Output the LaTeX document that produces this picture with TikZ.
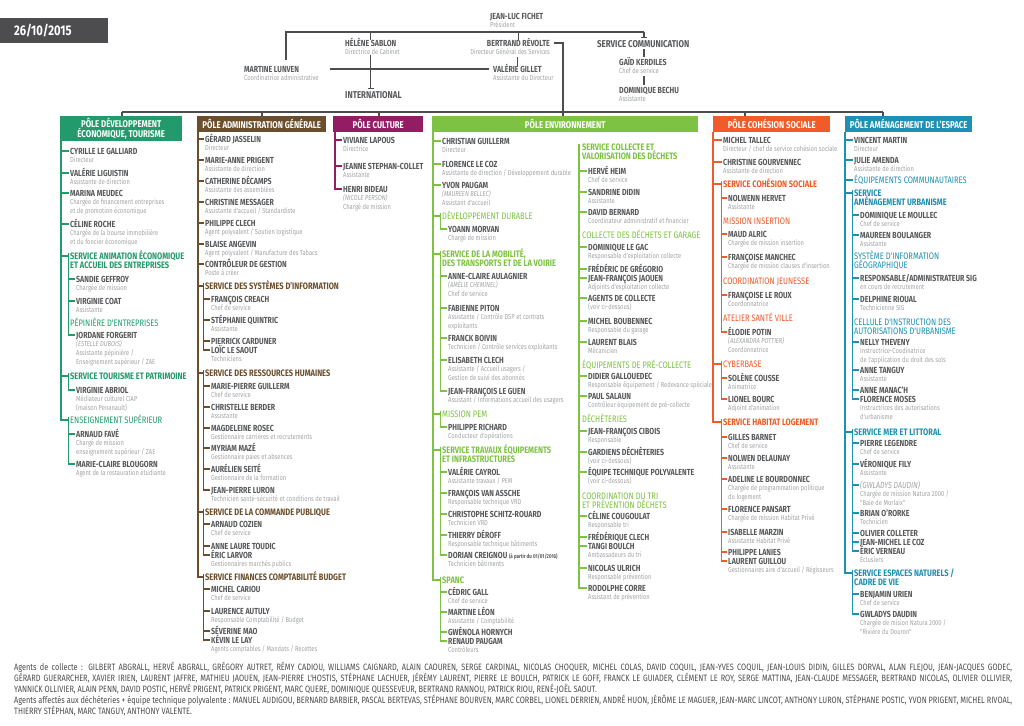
\documentclass[tikz,border=0pt]{standalone}
\usepackage{fontspec}
\setmainfont{Fira Sans}[FakeStretch=0.8]
\newfontfamily\subf{Fira Sans}[FakeStretch=0.8]
\usetikzlibrary{arrows.meta}
\definecolor{nmc}{HTML}{58595B}
\definecolor{sbc}{HTML}{A2A4A6}
\definecolor{dk}{HTML}{4D4D4F}
\definecolor{c1}{HTML}{229A6C}
\definecolor{c2}{HTML}{6B4F2C}
\definecolor{c3}{HTML}{931C63}
\definecolor{c4}{HTML}{7DC242}
\definecolor{c6}{HTML}{F15A29}
\definecolor{c7}{HTML}{1E90B4}
\colorlet{cc}{c1}
\tikzset{
 nm/.style={font=\fontsize{8.8}{9}\selectfont\bfseries, text=nmc, inner xsep=1.5pt, inner ysep=0pt, text height=6.2pt, text depth=0pt, anchor=west},
 sb/.style={font=\subf\fontsize{7.2}{8.6}\selectfont, text=sbc, inner xsep=1.5pt, inner ysep=0pt, align=left, anchor=north west},
 sbr/.style={sb, align=right, anchor=north east},
 secb/.style={nm, font=\fontsize{9.35}{9.5}\selectfont\bfseries, text=cc},
 secr/.style={nm, font=\subf\fontsize{9.4}{9.5}\selectfont, text=cc},
 lk/.style={draw=cc, line width=1.1pt},
 hk/.style={draw=dk, line width=1.2pt},
 ph/.style={fill=cc, text=white, font=\fontsize{9.8}{10.4}\selectfont\bfseries, inner sep=0pt, minimum height=16pt, anchor=north west, align=center},
 big/.style={nm, font=\fontsize{9.9}{10}\selectfont\bfseries},
 ft/.style={font=\subf\fontsize{9.2}{10}\selectfont, text=dk, inner xsep=1.5pt, inner ysep=0pt, anchor=west},
}
\newcommand\prs[6]{%
 \node[nm] (#1) at (#3,#4) {#5};
 \if\relax\detokenize{#6}\relax\else\node[sb] (#1s) at (#1.south west) {\rule{0pt}{8.3pt}#6};\fi
 \draw[lk] (#1.west -| #2) -- (#1.west);}
\newcommand\prq[5]{%
 \node[nm] (#1) at (#2,#3) {#4};
 \node[sb] (#1s) at (#1.south west) {\rule{0pt}{8.3pt}#5};}
\newcommand\secn[6]{%
 \node[#5] (#1) at (#3,#4) {#6};
 \draw[lk] (#1.west -| #2) -- (#1.west);}
\newcommand\secm[5]{\node[#4] (#1) at (#2,#3) {#5};}
\newcommand\secbb[3]{\node[#2] (#1b) at ([yshift=-9.6pt]#1.west) {#3};}
\newcommand\subl[2]{\draw[lk] (#1.north west) |- (#2.west);}
\begin{document}
\begin{tikzpicture}[x=1pt,y=-1pt]
\useasboundingbox (0,0) rectangle (1024,725);
\fill[white] (0,0) rectangle (1024,725);
% date
\node[fill=dk, text=white, font=\fontsize{14}{15}\selectfont\bfseries, text width=80pt, inner xsep=14pt, inner ysep=0pt, minimum height=25pt, align=left, anchor=north west] (date) at (0,18) {26/10/2015};
% top
\prq{fichet}{488.5}{16}{JEAN-LUC FICHET}{Président}
\prq{sablon}{343.5}{43}{HÉLÈNE SABLON}{Directrice de Cabinet}
\node[nm, anchor=east] (revolte) at (551.5,43) {BERTRAND RÉVOLTE};
\node[sbr] (revoltes) at (revolte.south east) {\rule{0pt}{8.3pt}Directeur Général des Services};
\prq{lunven}{242.5}{69}{MARTINE LUNVEN}{Coordinatrice administrative}
\prq{gillet}{491.5}{69}{VALÉRIE GILLET}{Assistante du Directeur}
\node[big] (intl) at (343.5,95) {INTERNATIONAL};
\node[big] (com) at (595.5,44) {SERVICE COMMUNICATION};
\prq{gaid}{617.5}{62}{GAÏD KERDILES}{Chef de service}
\prq{bechu}{617.5}{90}{DOMINIQUE BECHU}{Assistante}
\coordinate (tl) at (286,32);
\coordinate (tr) at (644,32);
\coordinate (tlb) at (286,60);
\coordinate (tcb) at (644,38);
\coordinate (hm) at (330,69);
\draw[hk] (tlb) -- (tl) -- (tr);
\draw[hk,-{Bar[width=6pt]}] (tr) -- (tcb);
\draw[hk] (sablon.north) -- (sablon.north |- tl);
\draw[hk] (revolte.north) -- (revolte.north |- tl);
\draw[hk,-{Bar[width=6pt]},shorten >=3pt] (sablons.south -| sablon.north) -- (intl.north -| sablon.north);
\draw[hk,shorten >=3pt] (hm) -- (gillet.west);
\draw[hk,shorten <=2pt] (revoltes.south -| gillet.north) -- (gillet.north);
\draw[hk,shorten <=2pt,shorten >=2pt] (com.south -| tr) -- (gaid.north -| tr);
\draw[hk,shorten <=2pt,shorten >=2pt] (gaids.south -| tr) -- (bechu.north -| tr);
\coordinate (mb1) at (122,112);
\coordinate (mb2) at (262,112);
\coordinate (mb3) at (379,112);
\coordinate (mb4) at (563,112);
\coordinate (mb5) at (745,112);
\coordinate (mb6) at (883,112);
\draw[hk] ([xshift=2pt]revolte.east) -| (mb4);
\draw[hk] (mb1) -- (mb6);
% ================= column 1
\colorlet{cc}{c1}
\node[ph, minimum width=122pt, minimum height=25pt] (h1) at (60,116) {PÔLE DÉVELOPPEMENT\\ÉCONOMIQUE, TOURISME};
\draw[hk] (mb1) -- (mb1 |- h1.north);
\coordinate (L1) at (61,141);
\prs{a1}{L1}{68.5}{151}{CYRILLE LE GALLIARD}{Directeur}
\prs{a2}{L1}{68.5}{173}{VALÉRIE LIGUISTIN}{Assistante de direction}
\prs{a3}{L1}{68.5}{193}{MARINA MEUDEC}{Chargée de financement entreprises\\et de promotion économique}
\prs{a4}{L1}{68.5}{224}{CÉLINE ROCHE}{Chargée de la bourse immobilière\\et du foncier économique}
\secn{as1}{L1}{68.5}{256}{secb}{SERVICE ANIMATION ÉCONOMIQUE}
\secbb{as1}{secb}{ET ACCUEIL DES ENTREPRISES}
\prs{a5}{as1.west}{74.5}{279}{SANDIE GEFFROY}{Chargée de mission}
\prs{a6}{as1.west}{74.5}{301}{VIRGINIE COAT}{Assistante}
\secm{as1p}{68.5}{323}{secr}{PÉPINIÈRE D'ENTREPRISES}
\prs{a7}{as1.west}{74.5}{335}{JORDANE FORGERIT}{\textit{(ESTELLE DUBOIS)}\\Assistante pépinière /\\Enseignement supérieur / ZAE}
\subl{as1}{a7}
\secn{as2}{L1}{68.5}{376}{secb}{SERVICE TOURISME ET PATRIMOINE}
\prs{a8}{as2.west}{74.5}{390}{VIRGINIE ABRIOL}{Médiateur culturel CIAP\\(maison Penanault)}
\subl{as2}{a8}
\secn{as3}{L1}{68.5}{420}{secr}{ENSEIGNEMENT SUPÉRIEUR}
\prs{a9}{as3.west}{74.5}{434}{ARNAUD FAVÉ}{Chargé de mission\\enseignement supérieur / ZAE}
\prs{a10}{as3.west}{74.5}{464}{MARIE-CLAIRE BLOUGORN}{Agent de la restauration étudiante}
\subl{as3}{a10}
\draw[lk] (L1) |- (as3.west);
% ================= column 2
\colorlet{cc}{c2}
\node[ph, minimum width=129pt] (h2) at (197,116) {PÔLE ADMINISTRATION GÉNÉRALE};
\draw[hk] (mb2) -- (mb2 |- h2.north);
\coordinate (L2) at (198,132);
\prs{b1}{L2}{203.5}{139}{GÉRARD JASSELIN}{Directeur}
\prs{b2}{L2}{203.5}{160}{MARIE-ANNE PRIGENT}{Assistante de direction}
\prs{b3}{L2}{203.5}{181}{CATHERINE DÉCAMPS}{Assistante des assemblées}
\prs{b4}{L2}{203.5}{202}{CHRISTINE MESSAGER}{Assistante d'accueil / Standardiste}
\prs{b5}{L2}{203.5}{223}{PHILIPPE CLECH}{Agent polyvalent / Soutien logistique}
\prs{b6}{L2}{203.5}{244}{BLAISE ANGEVIN}{Agent polyvalent / Manufacture des Tabacs}
\prs{b7}{L2}{203.5}{264}{CONTRÔLEUR DE GESTION}{Poste à créer}
\secn{bs1}{L2}{203.5}{286}{secb}{SERVICE DES SYSTÈMES D'INFORMATION}
\prs{b8}{bs1.west}{209.5}{299}{FRANÇOIS CREACH}{Chef de service}
\prs{b9}{bs1.west}{209.5}{320}{STÉPHANIE QUINTRIC}{Assistante}
\prs{b10}{bs1.west}{209.5}{341}{PIERRICK CARDUNER}{}
\prs{b11}{bs1.west}{209.5}{350}{LOÏC LE SAOUT}{Techniciens}
\subl{bs1}{b11}
\secn{bs2}{L2}{203.5}{373}{secb}{SERVICE DES RESSOURCES HUMAINES}
\prs{b12}{bs2.west}{209.5}{386}{MARIE-PIERRE GUILLERM}{Chef de service}
\prs{b13}{bs2.west}{209.5}{407}{CHRISTELLE BERDER}{Assistante}
\prs{b14}{bs2.west}{209.5}{428}{MAGDELEINE ROSEC}{Gestionnaire carrières et recrutements}
\prs{b15}{bs2.west}{209.5}{448}{MYRIAM MAZÉ}{Gestionnaire paies et absences}
\prs{b16}{bs2.west}{209.5}{469}{AURÉLIEN SEITÉ}{Gestionnaire de la formation}
\prs{b17}{bs2.west}{209.5}{490}{JEAN-PIERRE LURON}{Technicien santé-sécurité et conditions de travail}
\subl{bs2}{b17}
\secn{bs3}{L2}{203.5}{512}{secb}{SERVICE DE LA COMMANDE PUBLIQUE}
\prs{b18}{bs3.west}{209.5}{524}{ARNAUD COZIEN}{Chef de service}
\prs{b19}{bs3.west}{209.5}{546}{ANNE LAURE TOUDIC}{}
\prs{b20}{bs3.west}{209.5}{555}{ÉRIC LARVOR}{Gestionnaires marchés publics}
\subl{bs3}{b20}
\secn{bs4}{L2}{203.5}{577}{secb}{SERVICE FINANCES COMPTABILITÉ BUDGET}
\prs{b21}{bs4.west}{209.5}{589}{MICHEL CARIOU}{Chef de service}
\prs{b22}{bs4.west}{209.5}{611}{LAURENCE AUTULY}{Responsable Comptabilité / Budget}
\prs{b23}{bs4.west}{209.5}{631}{SÉVERINE MAO}{}
\prs{b24}{bs4.west}{209.5}{640}{KÉVIN LE LAY}{Agents comptables / Mandats / Recettes}
\subl{bs4}{b24}
\draw[lk] (L2) |- (bs4.west);
% ================= column 3
\colorlet{cc}{c3}
\node[ph, minimum width=90pt] (h3) at (333,116) {PÔLE CULTURE};
\draw[hk] (mb3) -- (mb3 |- h3.north);
\coordinate (L3) at (335,132);
\prs{c1}{L3}{341.5}{140}{VIVIANE LAPOUS}{Directrice}
\prs{c2}{L3}{341.5}{166}{JEANNE STEPHAN-COLLET}{Assistante}
\prs{c3}{L3}{341.5}{189}{HENRI BIDEAU}{\textit{(NICOLE PERSON)}\\Chargé de mission}
\draw[lk] (L3) |- (c3.west);
% ================= column 4
\colorlet{cc}{c4}
\node[ph, minimum width=266pt] (h4) at (432,116) {PÔLE ENVIRONNEMENT};
\draw[hk] (mb4) -- (mb4 |- h4.north);
\coordinate (L4) at (433,132);
\prs{d1}{L4}{440.5}{141}{CHRISTIAN GUILLERM}{Directeur}
\prs{d2}{L4}{440.5}{164}{FLORENCE LE COZ}{Assistante de direction / Développement durable}
\prs{d3}{L4}{440.5}{185}{YVON PAUGAM}{\textit{(MAUREEN BELLEC)}\\Assistant d'accueil}
\secn{ds1}{L4}{440.5}{216}{secr}{DÉVELOPPEMENT DURABLE}
\prs{d4}{ds1.west}{446.5}{229}{YOANN MORVAN}{Chargé de mission}
\subl{ds1}{d4}
\secn{ds2}{L4}{440.5}{254}{secb}{SERVICE DE LA MOBILITÉ,}
\secbb{ds2}{secb}{DES TRANSPORTS ET DE LA VOIRIE}
\prs{d5}{ds2.west}{446.5}{276}{ANNE-CLAIRE AULAGNIER}{\textit{(AMÉLIE CHEMINEL)}\\Chef de service}
\prs{d6}{ds2.west}{446.5}{308}{FABIENNE PITON}{Assistante / Contrôle DSP et contrats\\exploitants}
\prs{d7}{ds2.west}{446.5}{338}{FRANCK BOIVIN}{Technicien / Contrôle services exploitants}
\prs{d8}{ds2.west}{446.5}{360}{ELISABETH CLECH}{Assistante / Accueil usagers /\\Gestion de suivi des abonnés}
\prs{d9}{ds2.west}{446.5}{391}{JEAN-FRANÇOIS LE GUEN}{Assistant / Informations accueil des usagers}
\subl{ds2}{d9}
\secn{ds3}{L4}{440.5}{414}{secr}{MISSION PEM}
\prs{d10}{ds3.west}{446.5}{427}{PHILIPPE RICHARD}{Conducteur d'opérations}
\subl{ds3}{d10}
\secn{ds4}{L4}{440.5}{450}{secb}{SERVICE TRAVAUX ÉQUIPEMENTS}
\secbb{ds4}{secb}{ET INFRASTRUCTURES}
\prs{d11}{ds4.west}{446.5}{472}{VALÉRIE CAYROL}{Assistante travaux / PEM}
\prs{d12}{ds4.west}{446.5}{493}{FRANÇOIS VAN ASSCHE}{Responsable technique VRD}
\prs{d13}{ds4.west}{446.5}{514}{CHRISTOPHE SCHITZ-ROUARD}{Technicien VRD}
\prs{d14}{ds4.west}{446.5}{535}{THIERRY DÉROFF}{Responsable technique bâtiments}
\prs{d15}{ds4.west}{446.5}{555}{DORIAN CREIGNOU {\fontsize{5.6}{6}\selectfont(à partir du 01/01/2016)}}{Technicien bâtiments}
\subl{ds4}{d15}
\secn{ds5}{L4}{440.5}{580}{secb}{SPANC}
\prs{d16}{ds5.west}{446.5}{592}{CÉDRIC GALL}{Chef de service}
\prs{d17}{ds5.west}{446.5}{612}{MARTINE LÉON}{Assistante / Comptabilité}
\prs{d18}{ds5.west}{446.5}{632}{GWÉNOLA HORNYCH}{}
\prs{d19}{ds5.west}{446.5}{641}{RENAUD PAUGAM}{Contrôleurs}
\subl{ds5}{d19}
\draw[lk] (L4) |- (ds5.west);
% ---- sub column 5
\coordinate (L5) at (579,144);
\secm{es1}{580.5}{147}{secb}{SERVICE COLLECTE ET}
\secbb{es1}{secb}{VALORISATION DES DÉCHETS}
\prs{e1}{L5}{586.5}{171}{HERVÉ HEIM}{Chef de service}
\prs{e2}{L5}{586.5}{192}{SANDRINE DIDIN}{Assistante}
\prs{e3}{L5}{586.5}{212}{DAVID BERNARD}{Coordinateur administratif et financier}
\secm{es2}{580.5}{235}{secr}{COLLECTE DES DÉCHETS ET GARAGE}
\prs{e4}{L5}{586.5}{247}{DOMINIQUE LE GAC}{Responsable d'exploitation collecte}
\prs{e5}{L5}{586.5}{269}{FRÉDÉRIC DE GRÉGORIO}{}
\prs{e6}{L5}{586.5}{278}{JEAN-FRANÇOIS JAOUEN}{Adjoints d'exploitation collecte}
\prs{e7}{L5}{586.5}{298}{AGENTS DE COLLECTE}{(voir ci-dessous)}
\prs{e8}{L5}{586.5}{321}{MICHEL BOUBENNEC}{Responsable du garage}
\prs{e9}{L5}{586.5}{342}{LAURENT BLAIS}{Mécanicien}
\secm{es3}{580.5}{365}{secr}{ÉQUIPEMENTS DE PRÉ-COLLECTE}
\prs{e10}{L5}{586.5}{376}{DIDIER GALLOUEDEC}{Responsable équipement / Redevance spéciale}
\prs{e11}{L5}{586.5}{396}{PAUL SALAUN}{Contrôleur équipement de pré-collecte}
\secm{es4}{580.5}{419}{secr}{DÉCHÈTERIES}
\prs{e12}{L5}{586.5}{431}{JEAN-FRANÇOIS CIBOIS}{Responsable}
\prs{e13}{L5}{586.5}{452}{GARDIENS DÉCHÈTERIES}{(voir ci-dessous)}
\prs{e14}{L5}{586.5}{472}{ÉQUIPE TECHNIQUE POLYVALENTE}{(voir ci-dessous)}
\secm{es5}{580.5}{496}{secr}{COORDINATION DU TRI}
\secbb{es5}{secr}{ET PRÉVENTION DÉCHETS}
\prs{e15}{L5}{586.5}{516}{CÉLINE COUGOULAT}{Responsable tri}
\prs{e16}{L5}{586.5}{537}{FRÉDÉRIQUE CLECH}{}
\prs{e17}{L5}{586.5}{546}{TANGI BOULCH}{Ambassadeurs du tri}
\prs{e18}{L5}{586.5}{568}{NICOLAS ULRICH}{Responsable prévention}
\prs{e19}{L5}{586.5}{588}{RODOLPHE CORRE}{Assistant de prévention}
\draw[lk] (L5) |- (e19.west);
% ================= column 6
\colorlet{cc}{c6}
\node[ph, minimum width=117pt] (h6) at (713,116) {PÔLE COHÉSION SOCIALE};
\draw[hk] (mb5) -- (mb5 |- h6.north);
\coordinate (L6) at (713,132);
\prs{f1}{L6}{721.5}{140}{MICHEL TALLEC}{Directeur / chef de service cohésion sociale}
\prs{f2}{L6}{721.5}{162}{CHRISTINE GOURVENNEC}{Assistante de direction}
\secn{fs1}{L6}{721.5}{184}{secb}{SERVICE COHÉSION SOCIALE}
\prs{f3}{fs1.west}{726.5}{198}{NOLWENN HERVET}{Assistante}
\secm{fm1}{721.5}{221}{secr}{MISSION INSERTION}
\prs{f4}{fs1.west}{726.5}{234}{MAUD ALRIC}{Chargée de mission insertion}
\prs{f5}{fs1.west}{726.5}{257}{FRANÇOISE MANCHEC}{Chargée de mission clauses d'insertion}
\secm{fm2}{721.5}{281}{secr}{COORDINATION JEUNESSE}
\prs{f6}{fs1.west}{726.5}{295}{FRANÇOISE LE ROUX}{Coordonnatrice}
\secm{fm3}{721.5}{318}{secr}{ATELIER SANTÉ VILLE}
\prs{f7}{fs1.west}{726.5}{332}{ÉLODIE POTIN}{\textit{(ALEXANDRA POTTIER)}\\Coordonnatrice}
\subl{fs1}{f7}
\secn{fs2}{L6}{721.5}{364}{secr}{CYBERBASE}
\prs{f8}{fs2.west}{726.5}{378}{SOLÈNE COUSSE}{Animatrice}
\prs{f9}{fs2.west}{726.5}{399}{LIONEL BOURC}{Adjoint d'animation}
\subl{fs2}{f9}
\secn{fs3}{L6}{721.5}{422}{secb}{SERVICE HABITAT LOGEMENT}
\prs{f10}{fs3.west}{726.5}{437}{GILLES BARNET}{Chef de service}
\prs{f11}{fs3.west}{726.5}{458}{NOLWEN DELAUNAY}{Assistante}
\prs{f12}{fs3.west}{726.5}{479}{ADELINE LE BOURDONNEC}{Chargée de programmation politique\\du logement}
\prs{f13}{fs3.west}{726.5}{509}{FLORENCE PANSART}{Chargée de mission Habitat Privé}
\prs{f14}{fs3.west}{726.5}{532}{ISABELLE MARZIN}{Assistante Habitat Privé}
\prs{f15}{fs3.west}{726.5}{552}{PHILIPPE LANIES}{}
\prs{f16}{fs3.west}{726.5}{561}{LAURENT GUILLOU}{Gestionnaires aire d'accueil / Régisseurs}
\subl{fs3}{f16}
\draw[lk] (L6) |- (fs3.west);
% ================= column 7
\colorlet{cc}{c7}
\node[ph, minimum width=127pt] (h7) at (845,116) {PÔLE AMÉNAGEMENT DE L'ESPACE};
\draw[hk] (mb6) -- (mb6 |- h7.north);
\coordinate (L7) at (845,132);
\prs{g1}{L7}{852.5}{140}{VINCENT MARTIN}{Directeur}
\prs{g2}{L7}{852.5}{160}{JULIE AMENDA}{Assistante de direction}
\secn{gs1}{L7}{852.5}{180}{secr}{ÉQUIPEMENTS COMMUNAUTAIRES}
\secn{gs2}{L7}{852.5}{193}{secb}{SERVICE}
\secbb{gs2}{secb}{AMÉNAGEMENT URBANISME}
\prs{g3}{gs2.west}{858.5}{215}{DOMINIQUE LE MOULLEC}{Chef de service}
\prs{g4}{gs2.west}{858.5}{235}{MAUREEN BOULANGER}{Assistante}
\secm{gm1}{852.5}{256}{secr}{SYSTÈME D'INFORMATION}
\secbb{gm1}{secr}{GÉOGRAPHIQUE}
\prs{g5}{gs2.west}{858.5}{278}{RESPONSABLE/ADMINISTRATEUR SIG}{en cours de recrutement}
\prs{g6}{gs2.west}{858.5}{299}{DELPHINE RIOUAL}{Technicienne SIG}
\secm{gm2}{852.5}{322}{secr}{CELLULE D'INSTRUCTION DES}
\secbb{gm2}{secr}{AUTORISATIONS D'URBANISME}
\prs{g7}{gs2.west}{858.5}{342}{NELLY THEVENY}{Instructrice-Coodinatrice\\de l'application du droit des sols}
\prs{g8}{gs2.west}{858.5}{370}{ANNE TANGUY}{Assistante}
\prs{g9}{gs2.west}{858.5}{390}{ANNE MANAC'H}{}
\prs{g10}{gs2.west}{858.5}{399}{FLORENCE MOSES}{Instructrices des autorisations\\d'urbanisme}
\subl{gs2}{g10}
\secn{gs3}{L7}{852.5}{432}{secb}{SERVICE MER ET LITTORAL}
\prs{g11}{gs3.west}{858.5}{443}{PIERRE LEGENDRE}{Chef de service}
\prs{g12}{gs3.west}{858.5}{464}{VÉRONIQUE FILY}{Assistante}
\prs{g13}{gs3.west}{858.5}{485}{{\subf\mdseries\itshape\color{sbc}(GWLADYS DAUDIN)}}{Chargée de mission Natura 2000 /\\"Baie de Morlaix"}
\prs{g14}{gs3.west}{858.5}{513}{BRIAN O'RORKE}{Technicien}
\prs{g15}{gs3.west}{858.5}{533}{OLIVIER COLLETER}{}
\prs{g16}{gs3.west}{858.5}{542}{JEAN-MICHEL LE COZ}{}
\prs{g17}{gs3.west}{858.5}{551}{ÉRIC VERNEAU}{Éclusiers}
\subl{gs3}{g17}
\secn{gs4}{L7}{852.5}{573}{secb}{SERVICE ESPACES NATURELS /}
\secbb{gs4}{secb}{CADRE DE VIE}
\prs{g18}{gs4.west}{858.5}{594}{BENJAMIN URIEN}{Chef de service}
\prs{g19}{gs4.west}{858.5}{614}{GWLADYS DAUDIN}{Chargée de mision Natura 2000 /\\"Rivière du Douron"}
\subl{gs4}{g19}
\draw[lk] (L7) |- (gs4.west);
% ================= footer
\node[ft] (ft1) at (12.5,667) {\makebox[998pt][s]{Agents de collecte : GILBERT ABGRALL, HERVÉ ABGRALL, GRÉGORY AUTRET, RÉMY CADIOU, WILLIAMS CAIGNARD, ALAIN CAOUREN, SERGE CARDINAL, NICOLAS CHOQUER, MICHEL COLAS, DAVID COQUIL, JEAN-YVES COQUIL, JEAN-LOUIS DIDIN, GILLES DORVAL, ALAN FLEJOU, JEAN-JACQUES GODEC,}};
\node[ft] (ft2) at (12.5,678) {\makebox[998pt][s]{GÉRARD GUERARCHER, XAVIER IRIEN, LAURENT JAFFRE, MATHIEU JAOUEN, JEAN-PIERRE L'HOSTIS, STÉPHANE LACHUER, JÉRÉMY LAURENT, PIERRE LE BOULCH, PATRICK LE GOFF, FRANCK LE GUIADER, CLÉMENT LE ROY, SERGE MATTINA, JEAN-CLAUDE MESSAGER, BERTRAND NICOLAS, OLIVIER OLLIVIER,}};
\node[ft] (ft3) at (12.5,689) {YANNICK OLLIVIER, ALAIN PENN, DAVID POSTIC, HERVÉ PRIGENT, PATRICK PRIGENT, MARC QUERE, DOMINIQUE QUESSEVEUR, BERTRAND RANNOU, PATRICK RIOU, RENÉ-JOËL SAOUT.};
\node[ft] (ft4) at (12.5,700) {\makebox[998pt][s]{Agents affectés aux déchèteries + équipe technique polyvalente : MANUEL AUDIGOU, BERNARD BARBIER, PASCAL BERTEVAS, STÉPHANE BOURVEN, MARC CORBEL, LIONEL DERRIEN, ANDRÉ HUON, JÉRÔME LE MAGUER, JEAN-MARC LINCOT, ANTHONY LURON, STÉPHANE POSTIC, YVON PRIGENT, MICHEL RIVOAL,}};
\node[ft] (ft5) at (12.5,711) {THIERRY STÉPHAN, MARC TANGUY, ANTHONY VALENTE.};
\end{tikzpicture}
\end{document}
